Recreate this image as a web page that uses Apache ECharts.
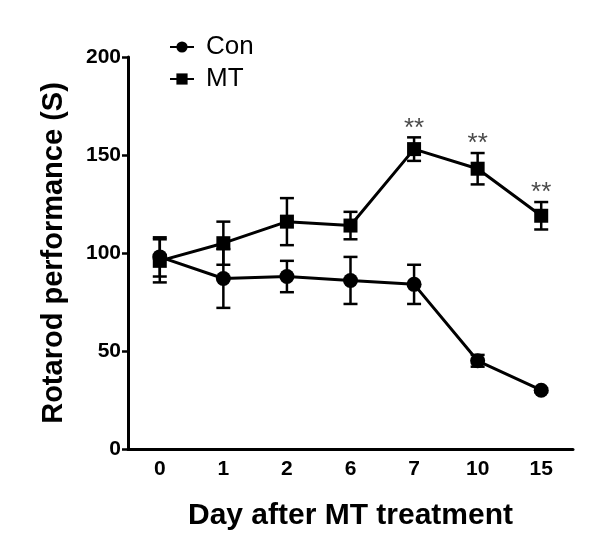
<!DOCTYPE html>
<html>
<head>
<meta charset="utf-8">
<script src="https://cdn.jsdelivr.net/npm/echarts@6/dist/echarts.min.js"></script>
<style>html,body{margin:0;padding:0;background:#fff;}#c{width:600px;height:554px;}</style>
</head>
<body>
<div id="c"></div>
<script>
const categories = ['0', '1', '2', '6', '7', '10', '15'];
const conMean = [98, 87, 88, 86, 84, 45, 30];
const conSem = [10, 15, 8, 12, 10, 3, 1];
const mtMean = [96, 105, 116, 114, 153, 143, 119];
const mtSem = [11, 11, 12, 7, 6, 8, 7];
const mtMarks = ['', '', '', '', '**', '**', '**'];
const yTicks = [0, 50, 100, 150, 200];

const FONT = "'Liberation Sans', Arial, sans-serif";

function errData(mean, sem, marks) {
  return mean.map((m, i) => [i, m - sem[i], m + sem[i], marks ? marks[i] : '']);
}

function errRender(params, api) {
  const lo = api.coord([api.value(0), api.value(1)]);
  const hi = api.coord([api.value(0), api.value(2)]);
  const cap = 7;
  const st = { stroke: '#000', lineWidth: 2.5 };
  const children = [
    { type: 'line', shape: { x1: hi[0], y1: hi[1], x2: lo[0], y2: lo[1] }, style: st },
    { type: 'line', shape: { x1: hi[0] - cap, y1: hi[1], x2: hi[0] + cap, y2: hi[1] }, style: st },
    { type: 'line', shape: { x1: lo[0] - cap, y1: lo[1], x2: lo[0] + cap, y2: lo[1] }, style: st }
  ];
  const mark = api.value(3);
  if (mark) {
    children.push({
      type: 'text',
      style: {
        text: mark, x: hi[0], y: hi[1] - 9,
        align: 'center', verticalAlign: 'middle',
        fill: '#4a4a4a', font: '26px ' + FONT
      }
    });
  }
  return { type: 'group', children };
}

const chart = echarts.init(document.getElementById('c'));
chart.setOption({
  animation: false,
  backgroundColor: '#fff',
  grid: { left: 128, right: 27, top: 57, bottom: 105 },
  legend: {
    orient: 'vertical', left: 164, top: 29,
    itemWidth: 24, itemHeight: 14, itemGap: 6,
    data: ['Con', 'MT'],
    textStyle: { fontFamily: FONT, fontSize: 26, color: '#000', padding: [0, 0, 0, 7] }
  },
  xAxis: {
    type: 'category',
    data: categories,
    boundaryGap: true,
    axisLine: { lineStyle: { color: '#000', width: 3 } },
    axisTick: { alignWithLabel: true, length: 6, lineStyle: { color: '#000', width: 2.5 } },
    axisLabel: { color: '#000', fontFamily: FONT, fontWeight: 'bold', fontSize: 21, margin: 10 },
    name: 'Day after MT treatment',
    nameLocation: 'middle', nameGap: 52,
    nameTextStyle: { color: '#000', fontFamily: FONT, fontWeight: 'bold', fontSize: 30 }
  },
  yAxis: {
    type: 'value', min: yTicks[0], max: yTicks[yTicks.length - 1], interval: 50,
    axisLine: { show: true, lineStyle: { color: '#000', width: 3 } },
    axisTick: { show: true, length: 6, lineStyle: { color: '#000', width: 2.5 } },
    splitLine: { show: false },
    axisLabel: { color: '#000', fontFamily: FONT, fontWeight: 'bold', fontSize: 21, margin: 7 },
    name: 'Rotarod performance (S)',
    nameLocation: 'middle', nameGap: 60, nameRotate: 90,
    nameTextStyle: { color: '#000', fontFamily: FONT, fontWeight: 'bold', fontSize: 29 }
  },
  series: [
    {
      type: 'custom', name: 'conErr', renderItem: errRender,
      data: errData(conMean, conSem), z: 1, silent: true
    },
    {
      type: 'custom', name: 'mtErr', renderItem: errRender,
      data: errData(mtMean, mtSem, mtMarks), z: 1, silent: true
    },
    {
      type: 'line', name: 'Con', data: conMean, z: 3,
      symbol: 'circle', symbolSize: 15,
      lineStyle: { color: '#000', width: 3 },
      itemStyle: { color: '#000' }
    },
    {
      type: 'line', name: 'MT', data: mtMean, z: 3,
      symbol: 'rect', symbolSize: 14,
      lineStyle: { color: '#000', width: 3 },
      itemStyle: { color: '#000' }
    }
  ]
});
</script>
</body>
</html>
